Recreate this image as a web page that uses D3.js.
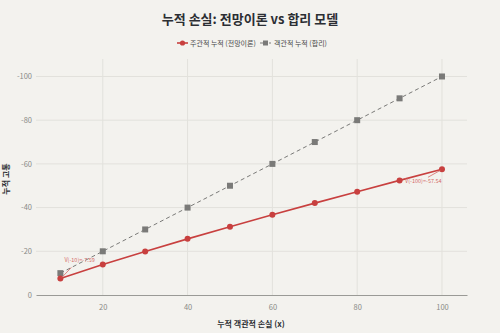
<!DOCTYPE html>
<html>
<head>
<meta charset="utf-8">
<script src="https://cdn.jsdelivr.net/npm/d3@7"></script>
<style>
  html, body { margin: 0; padding: 0; background: #f3f2ee; }
  svg { display: block; }
  text { font-family: "Noto Sans CJK KR", "Noto Sans", sans-serif; }
</style>
</head>
<body>
<svg id="chart" width="500" height="333"></svg>
<script>
// Cumulative objective loss (x) and the two cumulative value series
const losses = [10, 20, 30, 40, 50, 60, 70, 80, 90, 100];
const subjective = [-7.59, -13.96, -19.95, -25.69, -31.27, -36.71, -42.05, -47.29, -52.45, -57.54];
const objective = [-10, -20, -30, -40, -50, -60, -70, -80, -90, -100];
const xTicks = [20, 40, 60, 80, 100];
const yTicks = [0, -20, -40, -60, -80, -100];
const seriesNames = ["주관적 누적 (전망이론)", "객관적 누적 (합리)"];
const notes = [
  { i: 0, text: "V(-10)=-7.59", dx: 4, dy: -16, ax: 11, ay: -11 },
  { i: 9, text: "V(-100)=-57.54", dx: -37, dy: 14, ax: -14, ay: 8 }
];

const svg = d3.select("#chart");
const W = 500, H = 333;
const m = { left: 36, right: 33, top: 59, bottom: 38 };
const x0 = m.left, x1 = W - m.right, y0 = H - m.bottom, y1 = m.top;

const x = d3.scaleLinear().domain([4.25, 105.9]).range([x0, x1]);
const y = d3.scaleLinear().domain([0, -108]).range([y0, y1]);

const red = "#c8403f", gray = "#7a7a78";

// grid lines
const grid = svg.append("g");
grid.selectAll("line.v").data(xTicks).join("line")
  .attr("x1", d => x(d)).attr("x2", d => x(d))
  .attr("y1", y1).attr("y2", y0)
  .attr("stroke", "#e2e1dc").attr("stroke-width", 1);
grid.selectAll("line.h").data(yTicks.filter(d => d !== 0)).join("line")
  .attr("x1", x0).attr("x2", x1)
  .attr("y1", d => y(d)).attr("y2", d => y(d))
  .attr("stroke", "#e2e1dc").attr("stroke-width", 1);

// axes
const xAxis = svg.append("g").attr("transform", `translate(0,${y0})`)
  .call(d3.axisBottom(x).tickValues(xTicks).tickSize(0).tickPadding(10));
xAxis.select(".domain").attr("stroke", "#9a9a96").attr("stroke-width", 1.2);
xAxis.selectAll("text").attr("fill", "#8a8a86").attr("font-size", 7.5);

const yAxis = svg.append("g").attr("transform", `translate(${x0},0)`)
  .call(d3.axisLeft(y).tickValues(yTicks).tickSize(0).tickPadding(4)
    .tickFormat(d => d === 0 ? "0" : "-" + Math.abs(d)));
yAxis.select(".domain").remove();
yAxis.selectAll("text").attr("fill", "#8a8a86").attr("font-size", 7.5);

// lines
const objPts = losses.map((v, i) => [v, objective[i]]);
const subPts = losses.map((v, i) => [v, subjective[i]]);
const line = d3.line().x(d => x(d[0])).y(d => y(d[1]));

svg.append("path").datum(objPts).attr("d", line)
  .attr("fill", "none").attr("stroke", gray).attr("stroke-width", 1)
  .attr("stroke-dasharray", "4,3");
svg.selectAll("rect.obj").data(objPts).join("rect")
  .attr("x", d => x(d[0]) - 3).attr("y", d => y(d[1]) - 3)
  .attr("width", 6).attr("height", 6).attr("fill", gray);

svg.append("path").datum(subPts).attr("d", line)
  .attr("fill", "none").attr("stroke", red).attr("stroke-width", 1.6);
svg.selectAll("circle.sub").data(subPts).join("circle")
  .attr("cx", d => x(d[0])).attr("cy", d => y(d[1])).attr("r", 3).attr("fill", red);

// annotations
notes.forEach(n => {
  const px = x(losses[n.i]), py = y(subjective[n.i]);
  svg.append("line")
    .attr("x1", px + n.ax).attr("y1", py + n.ay)
    .attr("x2", px + (n.ax > 0 ? 1.5 : -1.5)).attr("y2", py + (n.ay > 0 ? 1 : -1))
    .attr("stroke", "#d36a66").attr("stroke-width", 0.8);
  svg.append("text").attr("x", px + n.dx).attr("y", py + n.dy)
    .attr("fill", "#d36a66").attr("font-size", 5.5).text(n.text);
});

// title
svg.append("text").attr("x", 250).attr("y", 24).attr("text-anchor", "middle")
  .attr("font-size", 13).attr("font-weight", "bold").attr("fill", "#2b2e33")
  .text("누적 손실: 전망이론 vs 합리 모델");

// legend
const lg = svg.append("g").attr("transform", "translate(0,43)");
lg.append("line").attr("x1", 177).attr("x2", 188).attr("stroke", red).attr("stroke-width", 1.6);
lg.append("circle").attr("cx", 182.5).attr("cy", 0).attr("r", 2.6).attr("fill", red);
lg.append("text").attr("x", 190).attr("y", 2.5).attr("font-size", 7).attr("fill", "#4a4a4a").text(seriesNames[0]);
lg.append("line").attr("x1", 260).attr("x2", 271).attr("stroke", gray).attr("stroke-width", 1).attr("stroke-dasharray", "3,1.5");
lg.append("rect").attr("x", 263).attr("y", -2.5).attr("width", 5).attr("height", 5).attr("fill", gray);
lg.append("text").attr("x", 274).attr("y", 2.5).attr("font-size", 7).attr("fill", "#4a4a4a").text(seriesNames[1]);

// axis titles
svg.append("text").attr("x", 251).attr("y", 327).attr("text-anchor", "middle")
  .attr("font-size", 8).attr("font-weight", "bold").attr("fill", "#2b2e33")
  .text("누적 객관적 손실 (x)");
svg.append("text").attr("transform", "translate(9,179) rotate(-90)").attr("text-anchor", "middle")
  .attr("font-size", 8).attr("font-weight", "bold").attr("fill", "#2b2e33")
  .text("누적 고통");
</script>
</body>
</html>
